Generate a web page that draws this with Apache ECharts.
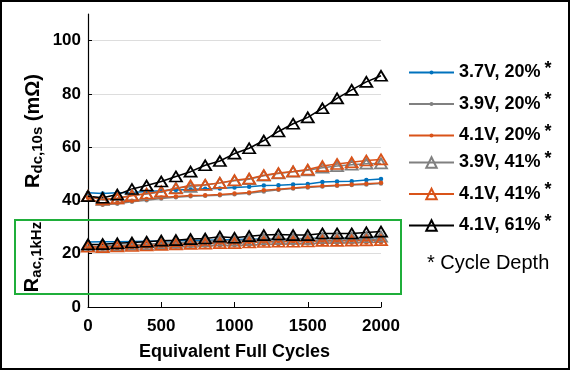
<!DOCTYPE html>
<html>
<head>
<meta charset="utf-8">
<script src="https://cdn.jsdelivr.net/npm/echarts@6/dist/echarts.min.js"></script>
<style>
html,body{margin:0;padding:0;background:#fff;}
#chart{width:570px;height:370px;}
</style>
</head>
<body>
<div id="chart"></div>
<script>
// ---- data ----
var cycles = [0,100,200,300,400,500,600,700,800,900,1000,1100,1200,1300,1400,1500,1600,1700,1800,1900,2000];
var seriesNames = ['3.7V, 20%', '3.9V, 20%', '4.1V, 20%', '3.9V, 41%', '4.1V, 41%', '4.1V, 61%'];
// R_dc,10s (mOhm)
var dc37_20 = [42.9,42.6,42.9,43.0,43.4,43.6,43.9,44.1,44.4,44.5,44.9,45.1,45.6,45.7,46.0,46.2,46.9,47.1,47.2,47.7,48.1];
var dc39_20 = [41.2,38.4,38.8,39.5,40.1,40.7,41.2,41.6,41.8,42.0,42.3,42.7,43.4,44.0,44.5,44.9,45.2,45.5,45.8,46.0,46.4];
var dc41_20 = [41.0,38.6,39.1,39.9,40.5,41.1,41.5,41.9,42.0,42.2,42.6,43.0,43.8,44.2,44.7,45.1,45.4,45.7,46.0,46.3,46.6];
var dc39_41 = [41.6,40.2,40.8,42.0,42.4,43.2,44.7,45.1,45.8,46.6,47.4,48.0,49.3,50.1,50.8,51.3,52.3,52.9,53.4,53.8,53.9];
var dc41_41 = [41.6,40.4,40.8,41.8,42.6,43.4,44.5,45.7,45.9,46.6,47.6,48.2,49.5,50.3,50.9,51.6,52.9,53.7,54.3,55.0,55.4];
var dc41_61 = [41.6,41.0,42.2,44.3,45.6,47.1,49.0,50.8,53.2,54.8,57.6,59.6,62.5,65.9,68.8,71.2,74.6,78.3,81.5,84.5,86.8];
// R_ac,1kHz (mOhm)
var ac37_20 = [24.4,24.5,24.5,24.6,24.7,24.8,24.9,25.0,25.1,25.2,25.3,25.4,25.5,25.5,25.6,25.7,25.8,25.9,25.9,26.0,26.1];
var ac39_20 = [22.4,22.5,22.7,22.9,23.1,23.3,23.5,23.7,23.9,24.1,24.2,24.4,24.6,24.7,24.8,24.9,25.0,25.1,25.2,25.3,25.4];
var ac41_20 = [22.0,21.8,22.0,22.2,22.4,22.5,22.7,22.9,23.0,23.1,23.2,23.3,23.5,23.6,23.7,23.8,23.9,24.0,24.1,24.2,24.3];
var ac39_41 = [22.8,22.9,23.1,23.4,23.6,23.9,24.1,24.4,24.6,25.0,24.9,25.2,25.5,25.6,25.6,25.6,25.9,25.9,26.0,26.2,26.4];
var ac41_41 = [22.6,22.5,22.7,22.9,23.1,23.3,23.5,23.7,23.8,24.0,24.0,24.2,24.4,24.5,24.5,24.6,24.8,24.8,24.9,25.0,25.1];
var ac41_61 = [23.5,23.6,23.9,24.2,24.5,24.9,25.1,25.5,25.7,26.4,26.0,26.6,27.0,27.2,27.0,27.0,27.6,27.6,27.6,28.0,28.3];
var xTicks = [0, 500, 1000, 1500, 2000];
var yTicks = [0, 20, 40, 60, 80, 100];

// ---- styles ----
var FONT = '"Liberation Sans", Arial, sans-serif';
var BLUE = '#0072BD', ORANGE = '#D95319', GRAY = '#808080', BLACK = '#000000';
var styles = [
  {color: BLUE, tri: false},
  {color: GRAY, tri: false},
  {color: ORANGE, tri: false},
  {color: GRAY, tri: true},
  {color: ORANGE, tri: true},
  {color: BLACK, tri: true}
];
var dcSets = [dc37_20, dc39_20, dc41_20, dc39_41, dc41_41, dc41_61];
var acSets = [ac37_20, ac39_20, ac41_20, ac39_41, ac41_41, ac41_61];

function pairs(vals) {
  return cycles.map(function (c, i) { return [c, vals[i]]; });
}
function makeSeries(i, vals) {
  var st = styles[i];
  return {
    type: 'line',
    name: seriesNames[i],
    data: pairs(vals),
    symbol: st.tri ? 'triangle' : 'circle',
    symbolSize: st.tri ? [12, 10] : 4.5,
    showAllSymbol: true,
    lineStyle: {color: st.color, width: 1.5},
    itemStyle: st.tri
      ? {color: 'rgba(255,255,255,0)', borderColor: st.color, borderWidth: 1.8}
      : {color: st.color, borderColor: st.color, borderWidth: 0},
    emphasis: {disabled: true},
    animation: false,
    z: st.tri ? 3 : 2
  };
}
var series = [];
for (var i = 0; i < 6; i++) series.push(makeSeries(i, dcSets[i]));
for (var j = 0; j < 6; j++) series.push(makeSeries(j, acSets[j]));

var richLegend = {
  a: {fontFamily: FONT, fontSize: 18, fontWeight: 'bold', color: '#000'},
  s: {fontFamily: FONT, fontSize: 18, fontWeight: 'bold', color: '#000', padding: [0, 0, 7, 4]}
};
function legendFmt(name) { return '{a|' + name + '}{s|*}'; }

var chart = echarts.init(document.getElementById('chart'), null, {renderer: 'canvas'});
chart.setOption({
  animation: false,
  backgroundColor: '#fff',
  grid: {left: 88, right: 189, top: 14, bottom: 63, containLabel: false},
  xAxis: {
    type: 'value', min: 0, max: 2000, interval: 500,
    name: 'Equivalent Full Cycles', nameLocation: 'middle', nameGap: 36,
    nameTextStyle: {fontFamily: FONT, fontSize: 18, fontWeight: 'bold', color: '#000'},
    axisLine: {show: true, lineStyle: {color: '#000', width: 1.2}},
    axisTick: {show: true, inside: true, length: 5, lineStyle: {color: '#000'}},
    axisLabel: {fontFamily: FONT, fontSize: 17, fontWeight: 'bold', color: '#000', margin: 11,
      formatter: function (v) { return xTicks.indexOf(v) >= 0 ? String(v) : ''; }},
    splitLine: {show: false}
  },
  yAxis: {
    type: 'value', min: 0, max: 110, interval: 20,
    axisLine: {show: true, onZero: false, lineStyle: {color: '#000', width: 1.2}},
    axisTick: {show: true, inside: true, length: 4, lineStyle: {color: '#000'}},
    axisLabel: {fontFamily: FONT, fontSize: 17, fontWeight: 'bold', color: '#000', margin: 7, showMaxLabel: false,
      formatter: function (v) { return yTicks.indexOf(v) >= 0 ? String(v) : ''; }},
    splitLine: {show: true, showMinLine: false, showMaxLine: false, lineStyle: {color: '#dddddd', width: 1.2}}
  },
  legend: [
    {
      data: seriesNames.slice(0, 3), orient: 'vertical', left: 403, top: 55,
      itemWidth: 45, itemHeight: 5, itemGap: 10, selectedMode: false,
      formatter: legendFmt, textStyle: {rich: richLegend}
    },
    {
      data: seriesNames.slice(3, 6), orient: 'vertical', left: 403, top: 145,
      itemWidth: 45, itemHeight: 13, itemGap: 10, selectedMode: false,
      formatter: legendFmt, textStyle: {rich: richLegend}
    }
  ],
  graphic: [
    {type: 'rect', shape: {x: 1, y: 1, width: 568, height: 368}, style: {fill: 'none', stroke: '#000', lineWidth: 2}, z: 100, silent: true},
    {type: 'rect', shape: {x: 15, y: 220, width: 386, height: 74}, style: {fill: 'none', stroke: '#1fae3a', lineWidth: 2}, z: 100, silent: true},
    {type: 'text', x: 33, y: 131, rotation: Math.PI / 2, z: 100, silent: true,
      style: {text: '{r|R}{b|dc,10s}{r| (mΩ)}', align: 'center', verticalAlign: 'middle',
        rich: {
          r: {fontFamily: FONT, fontSize: 20, fontWeight: 'bold', fill: '#000', color: '#000'},
          b: {fontFamily: FONT, fontSize: 15, fontWeight: 'bold', fill: '#000', color: '#000', padding: [10, 0, 0, 0]}
        }}},
    {type: 'text', x: 32, y: 257, rotation: Math.PI / 2, z: 100, silent: true,
      style: {text: '{r|R}{b|ac,1kHz}', align: 'center', verticalAlign: 'middle',
        rich: {
          r: {fontFamily: FONT, fontSize: 20, fontWeight: 'bold', fill: '#000', color: '#000'},
          b: {fontFamily: FONT, fontSize: 15, fontWeight: 'bold', fill: '#000', color: '#000', padding: [10, 0, 0, 0]}
        }}},
    {type: 'text', x: 427, y: 263, z: 100, silent: true,
      style: {text: '* Cycle Depth', font: '20px ' + FONT, fill: '#000', align: 'left', verticalAlign: 'middle'}}
  ],
  series: series
});
</script>
</body>
</html>
